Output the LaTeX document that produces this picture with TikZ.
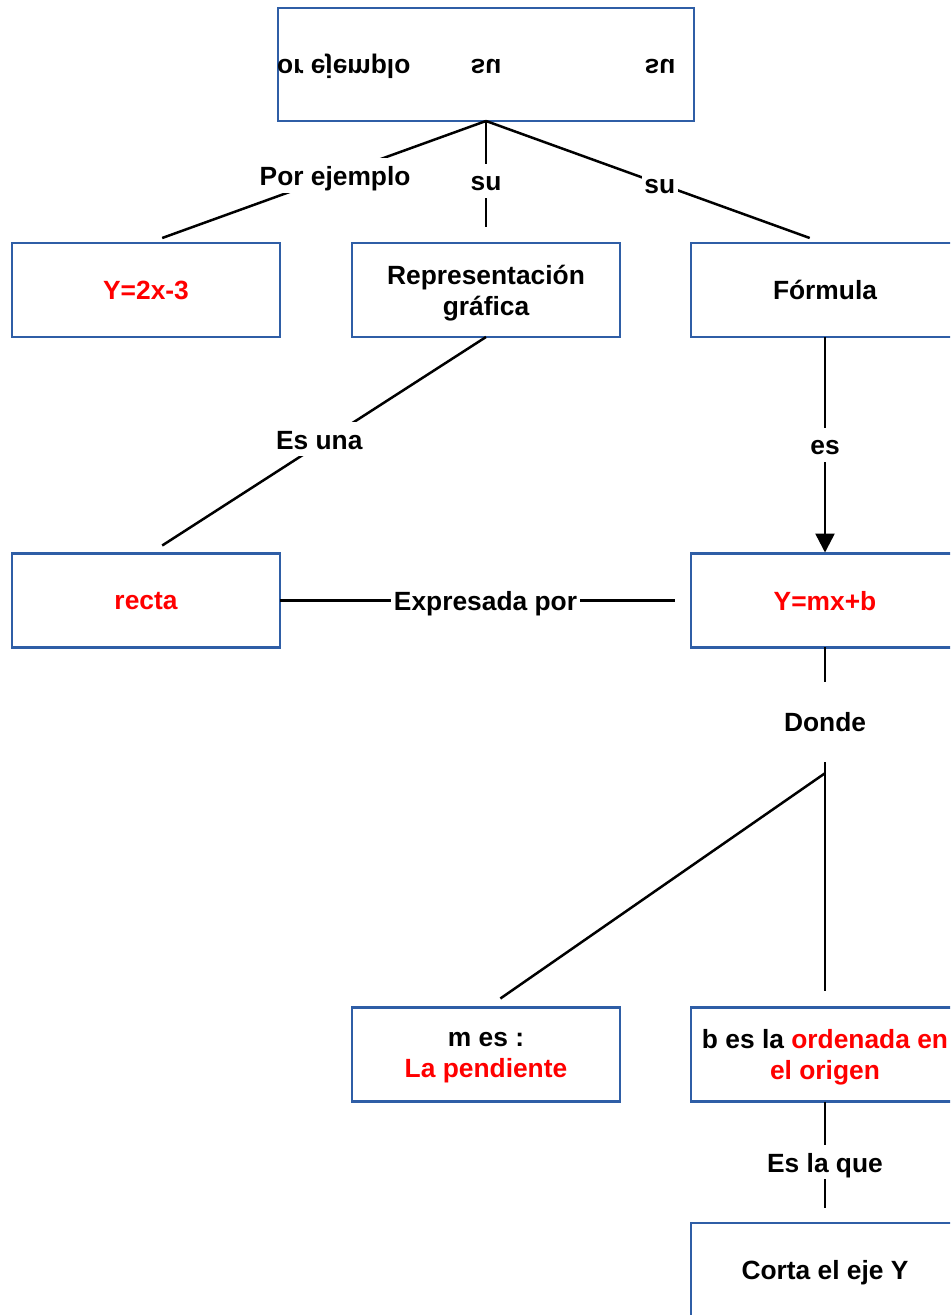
\documentclass[tikz,border=0pt]{standalone}
\usepackage{fontspec}
\setmainfont{Liberation Sans}
\usetikzlibrary{arrows.meta}

\definecolor{boxblue}{RGB}{47,94,166}

\tikzset{
  concept/.style={draw=boxblue, line width=1.42pt, fill=white,
    minimum width=5.36cm, minimum height=1.88cm, align=center,
    text depth=0pt, inner sep=0pt, outer sep=0pt},
  link/.style={fill=white, text height=13.5pt, text depth=2pt,
    inner xsep=1.5pt, inner ysep=2pt},
}

\begin{document}
\begin{tikzpicture}[x=0.02cm, y=-0.02cm, line width=1.42pt,
    font=\fontsize{15}{17.6}\selectfont\bfseries]

  \path[use as bounding box, clip] (0,0) rectangle (950,1315);

  % concept boxes
  \node[concept, minimum width=8.32cm, minimum height=2.26cm] (func) at (486,64.5) {};
  \node[concept] (ejemplo)   at (146,290)    {\textcolor{red}{Y=2x-3}};
  \node[concept] (grafica)   at (486,290)    {Representación\\gráfica};
  \node[concept] (formula)   at (825,290)    {Fórmula};
  \node[concept] (recta)     at (146,600.5)  {\textcolor{red}{recta}};
  \node[concept] (general)   at (825,600.5)  {\textcolor{red}{Y=mx+b}};
  \node[concept] (pendiente) at (486,1054.5) {m es :\\\textcolor{red}{La pendiente}};
  \node[concept] (ordenada)  at (825,1054.5) {b es la \textcolor{red}{ordenada en}\\\textcolor{red}{el origen}};
  \node[concept] (corte)     at (825,1270)   {Corta el eje Y};

  % flipped labels inside the top box
  \begin{scope}
    \clip (func.south west) rectangle (func.north east);
    \begin{scope}[every node/.style={yscale=-1, transform shape}]
      \node (func-ej)  at (335,66) {Por ejemplo};
      \node (func-su1) at (486,66) {su};
      \node (func-su2) at (660,66) {su};
    \end{scope}
  \end{scope}

  \node[minimum height=1.56cm, inner sep=0pt] (donde) at (825,722) {Donde};

  \begin{scope}[every node/.style={link}]

    \begin{scope}[every edge/.style={draw}]
      \path (func.south) edge node[pos=.466] {Por ejemplo} ([yshift=.1cm]ejemplo.71);
      \path (func.south) edge[shorten >=.32cm] node[pos=.49] {su} (grafica.north);
      \path (func.south) edge node[pos=.537] {su} ([yshift=.1cm]formula.108);
      \path (grafica.south) edge node[pos=.515, yshift=3pt] {Es una} ([yshift=.16cm]recta.71);
      \path (formula.south) edge[-{Triangle[width=.38cm,length=.38cm]}] node {es} ([yshift=.02cm]general.north);
      \path (recta.east) edge[shorten >=.32cm] node {Expresada por} (general.west);
      \path (general.south) edge (donde.north);
      \path (donde.south) edge[shorten >=.34cm] (ordenada.north);
      \path ([yshift=-.22cm]donde.south) edge ([yshift=.18cm]pendiente.73);
      \path (ordenada.south) edge[shorten >=.3cm] node[pos=.5] {Es la que} (corte.north);
    \end{scope}
  \end{scope}

\end{tikzpicture}
\end{document}
